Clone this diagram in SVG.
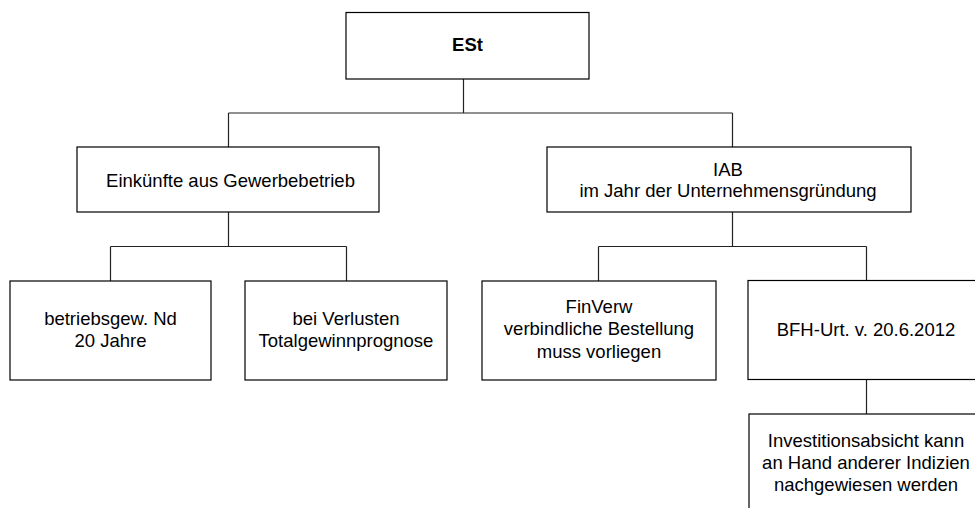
<svg xmlns="http://www.w3.org/2000/svg" width="975" height="508" viewBox="0 0 975 508">
<style>
.box{fill:#fff;stroke:#000;stroke-width:1.2}
.t{font-family:"Liberation Sans",Arial,sans-serif;font-size:18.5px;fill:#000;text-anchor:middle}
.b{font-weight:bold;font-size:18.5px}
.c{fill:none;stroke:#222;stroke-width:1.2}
</style>
<rect width="975" height="508" fill="#fff"/>
<g id="connectors">
<path class="c" d="M463.5,79 V113 M228.5,113 H732.5 M228.5,113 V147 M732.5,113 V147"/>
<path class="c" d="M228.5,212 V246.5 M110.5,246.5 H346.5 M110.5,246.5 V281 M346.5,246.5 V281"/>
<path class="c" d="M732.5,212 V246.5 M598.5,246.5 H866.5 M598.5,246.5 V281 M866.5,246.5 V280"/>
<path class="c" d="M866.5,379 V414"/>
</g>
<g id="est">
<rect class="box" x="346" y="12.5" width="243" height="66.5"/>
<text class="t b" x="467.5" y="51">ESt</text>
</g>
<g id="einkuenfte">
<rect class="box" x="77" y="147" width="302" height="65"/>
<text class="t" x="230.5" y="186.5">Einkünfte aus Gewerbebetrieb</text>
</g>
<g id="iab">
<rect class="box" x="547" y="147" width="364" height="65"/>
<text class="t" x="728" y="175.5">IAB</text>
<text class="t" x="728" y="196.5">im Jahr der Unternehmensgründung</text>
</g>
<g id="nd">
<rect class="box" x="10" y="281" width="201" height="99"/>
<text class="t" x="110.5" y="324.5">betriebsgew. Nd</text>
<text class="t" x="110.5" y="347">20 Jahre</text>
</g>
<g id="verluste">
<rect class="box" x="245" y="281" width="202" height="99"/>
<text class="t" x="346" y="324.5">bei Verlusten</text>
<text class="t" x="346" y="347">Totalgewinnprognose</text>
</g>
<g id="finverw">
<rect class="box" x="482" y="281" width="234" height="99"/>
<text class="t" x="599" y="313">FinVerw</text>
<text class="t" x="599" y="335">verbindliche Bestellung</text>
<text class="t" x="599" y="357.5">muss vorliegen</text>
</g>
<g id="bfh">
<rect class="box" x="748" y="280.5" width="236" height="99"/>
<text class="t" x="866" y="336">BFH-Urt. v. 20.6.2012</text>
</g>
<g id="investition">
<rect class="box" x="749" y="414" width="234" height="100"/>
<text class="t" x="866" y="447">Investitionsabsicht kann</text>
<text class="t" x="866" y="469">an Hand anderer Indizien</text>
<text class="t" x="866" y="491">nachgewiesen werden</text>
</g>
</svg>
